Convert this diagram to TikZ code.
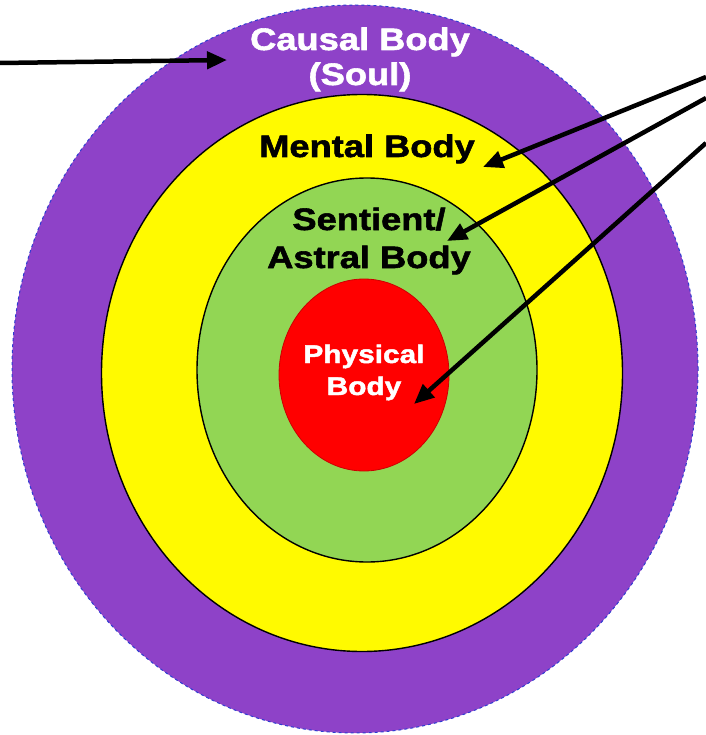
\documentclass[tikz,border=0pt]{standalone}
\usepackage{fontspec}
\setmainfont{Liberation Sans}
\newfontfamily\layerfont[FakeStretch=1.17, BoldFeatures={FakeBold=1.8}]{Liberation Sans}
\usepackage{xcolor}
\usetikzlibrary{positioning, shapes.geometric, arrows.meta}

\definecolor{soulpurple}{RGB}{142,66,200}
\definecolor{mentalyellow}{RGB}{255,250,0}
\definecolor{astralgreen}{RGB}{146,214,84}
\definecolor{physred}{RGB}{255,0,0}
\definecolor{borderblue}{RGB}{45,60,210}

\begin{document}
\begin{tikzpicture}[
  x=1pt, y=-1pt,
  layer/.style={draw, ellipse, inner sep=0pt, fill=#1, line width=1.4pt},
  lbl/.style={font=\layerfont\bfseries\fontsize{31}{38}\selectfont, align=center, anchor=base, inner sep=0pt},
  ptr/.style={-{Triangle[length=20pt, width=17pt]}, line width=4.5pt},
]
\useasboundingbox (0,0) rectangle (705,735);

% ── nested bodies ──
\node[layer=soulpurple, draw=borderblue, dashed, line width=1pt,
      minimum width=686pt, minimum height=728pt] (causal) at (355,369) {};
\node[layer=mentalyellow, minimum width=521pt, minimum height=557pt] (mental) at (362,373) {};
\node[layer=astralgreen, minimum width=340pt, minimum height=384pt] (astral) at (367,370) {};
\node[layer=physred, draw=physred!80!black, line width=0.8pt,
      minimum width=170pt, minimum height=192pt] (physical) at (364,375) {};

% ── labels (base = last line) ──
\node[lbl, text=white, font=\layerfont\bfseries\fontsize{31}{35}\selectfont] (causallbl) at (360,85) {Causal Body\\(Soul)};
\node[lbl] (mentallbl) at (367,157) {Mental Body};
\node[lbl] (astrallbl) at (369,268) {Sentient/\\Astral Body};
\node[lbl, font=\layerfont\bfseries\fontsize{25.5}{32}\selectfont, text=white]
  (physlbl) at (364,395) {Physical\\Body};

% ── pointers ──
\coordinate (leftend) at (0,63);
\coordinate (causaltip) at (227,60);
\coordinate (rightA) at (706,77);
\coordinate (rightB) at (706,98);
\coordinate (rightC) at (706,143);
\coordinate (mentaltip) at (483,167);
\coordinate (astraltip) at (447,241);
\coordinate (physicaltip) at (414,404);
\draw[ptr] (leftend) -- (causaltip);
\draw[ptr] (rightA) -- (mentaltip);
\draw[ptr] (rightB) -- (astraltip);
\draw[ptr] (rightC) -- (physicaltip);
\end{tikzpicture}
\end{document}
